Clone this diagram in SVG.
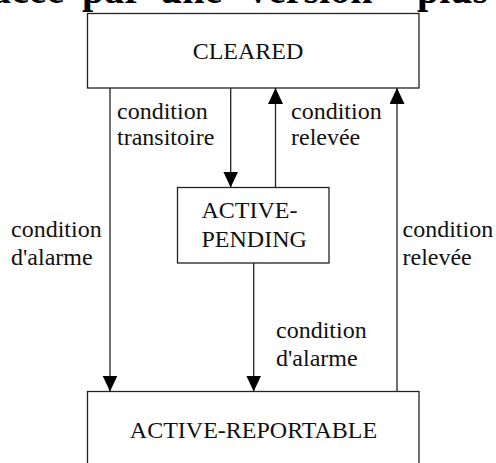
<svg xmlns="http://www.w3.org/2000/svg" width="496" height="463" viewBox="0 0 496 463">
<style>
.box{fill:#fff;stroke:#222;stroke-width:1.3}
.ln{stroke:#222;stroke-width:1.3;fill:none}
.t{font-family:"Liberation Serif","Times New Roman",serif;font-size:24px;fill:#111}
.c{text-anchor:middle}
.title{font-family:"Liberation Serif","Times New Roman",serif;font-size:40px;font-weight:bold;fill:#000}
</style>
<defs>
<marker id="ah" viewBox="0 0 16 15" refX="16" refY="7.5" markerWidth="16" markerHeight="15" markerUnits="userSpaceOnUse" orient="auto">
<path d="M0,0 L16,7.5 L0,15 Z" fill="#000"/>
</marker>
</defs>
<rect width="496" height="463" fill="#fff"/>
<text class="title" y="3"><tspan x="-110.5">remplacée</tspan><tspan x="82">par</tspan><tspan x="160">une</tspan><tspan x="248">version</tspan><tspan x="417">plus</tspan></text>
<g id="cleared">
<rect class="box" x="87.5" y="13.5" width="331.5" height="74.5"/>
<text class="t c" x="248" y="58.5">CLEARED</text>
</g>
<g id="active-pending">
<rect class="box" x="177.5" y="187.5" width="151.5" height="75.5"/>
<text class="t" x="201.5" y="218.3">ACTIVE-</text>
<text class="t" x="201.5" y="246.5">PENDING</text>
</g>
<g id="active-reportable">
<rect class="box" x="87.5" y="391.5" width="331.5" height="90"/>
<text class="t c" x="253.5" y="438.3">ACTIVE-REPORTABLE</text>
</g>
<g id="connectors">
<line class="ln" x1="110" y1="88" x2="110" y2="391.5" marker-end="url(#ah)"/>
<line class="ln" x1="230.7" y1="88" x2="230.7" y2="187.5" marker-end="url(#ah)"/>
<line class="ln" x1="275.5" y1="187.5" x2="275.5" y2="88" marker-end="url(#ah)"/>
<line class="ln" x1="397" y1="391.5" x2="397" y2="88" marker-end="url(#ah)"/>
<line class="ln" x1="253.7" y1="263" x2="253.7" y2="391.5" marker-end="url(#ah)"/>
</g>
<g id="labels">
<text class="t" x="117" y="119">condition</text>
<text class="t" x="117" y="145">transitoire</text>
<text class="t" x="291" y="119">condition</text>
<text class="t" x="291" y="145">relevée</text>
<text class="t" x="11" y="237">condition</text>
<text class="t" x="11" y="264.5">d'alarme</text>
<text class="t" x="402.5" y="237">condition</text>
<text class="t" x="402.5" y="264.5">relevée</text>
<text class="t" x="276" y="338">condition</text>
<text class="t" x="276" y="365.5">d'alarme</text>
</g>
</svg>
